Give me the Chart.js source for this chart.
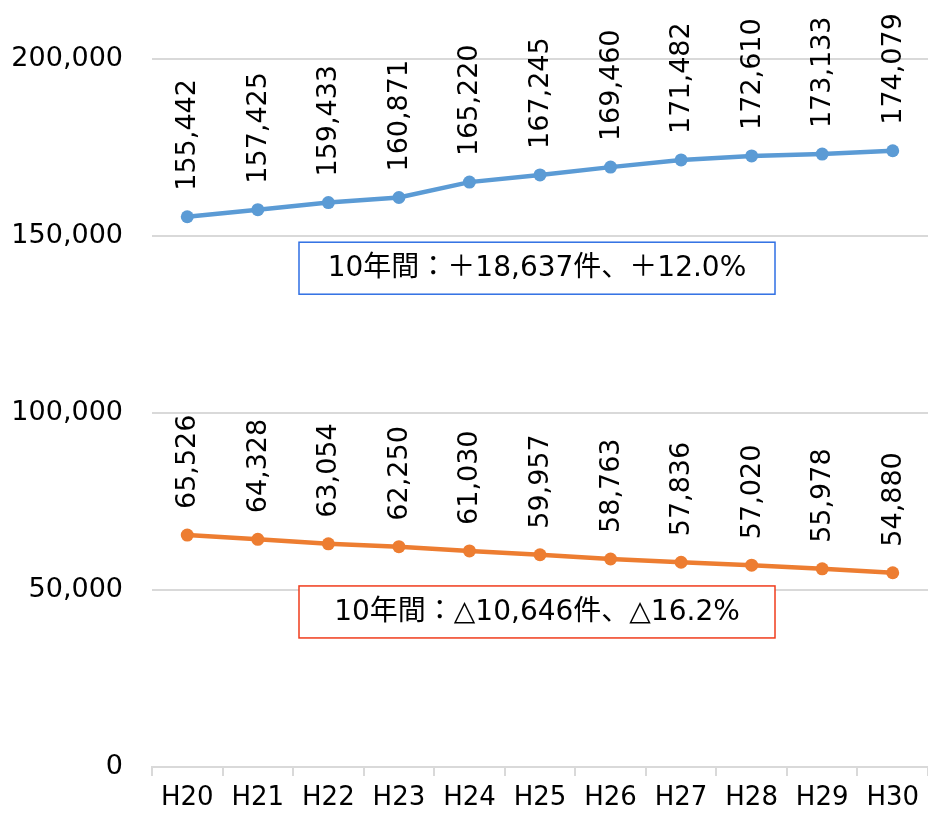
<!DOCTYPE html>
<html>
<head>
<meta charset="utf-8">
<script src="https://cdn.jsdelivr.net/npm/chart.js@4/dist/chart.umd.min.js"></script>
<style>
  html, body { margin: 0; padding: 0; background: #fff; overflow: hidden; }
  #wrap { width: 928px; height: 819px; }
  canvas { display: block; }
</style>
</head>
<body>
<div id="wrap"><canvas id="chart" width="928" height="819"></canvas></div>
<script>
const years = ["H20", "H21", "H22", "H23", "H24", "H25", "H26", "H27", "H28", "H29", "H30"];
const blueValues = [155442, 157425, 159433, 160871, 165220, 167245, 169460, 171482, 172610, 173133, 174079];
const orangeValues = [65526, 64328, 63054, 62250, 61030, 59957, 58763, 57836, 57020, 55978, 54880];
const yTicks = [0, 50000, 100000, 150000, 200000];
const blueNote = "10年間：＋18,637件、＋12.0%";
const orangeNote = "10年間：△10,646件、△16.2%";

const FONT = "'DejaVu Sans', 'Noto Sans CJK JP', sans-serif";
const fmt = v => v.toLocaleString("en-US");

// rotated value labels above each point
const pointLabels = {
    id: "pointLabels",
    afterDatasetsDraw(chart) {
        const ctx = chart.ctx;
        ctx.save();
        ctx.font = "27px " + FONT;
        ctx.fillStyle = "#000";
        ctx.textAlign = "left";
        ctx.textBaseline = "middle";
        chart.data.datasets.forEach((ds, i) => {
            chart.getDatasetMeta(i).data.forEach((pt, j) => {
                ctx.save();
                ctx.translate(pt.x, pt.y - 26);
                ctx.rotate(-Math.PI / 2);
                ctx.fillText(fmt(ds.data[j]), 0, 1);
                ctx.restore();
            });
        });
        ctx.restore();
    }
};

// boxed notes, placed through the scales
const notes = {
    id: "notes",
    afterDraw(chart) {
        const ctx = chart.ctx;
        const x = chart.scales.x, y = chart.scales.y;
        const items = [
            { text: blueNote, at: [5, 140900], color: "#2f6fe4" },
            { text: orangeNote, at: [5, 43800], color: "#f03c1c" }
        ];
        ctx.save();
        ctx.font = "28px " + FONT;
        ctx.textAlign = "center";
        ctx.textBaseline = "middle";
        items.forEach(n => {
            const cx = x.getPixelForValue(n.at[0]) - 3;
            const cy = y.getPixelForValue(n.at[1]);
            const w = 476, h = 52;
            ctx.fillStyle = "#fff";
            ctx.fillRect(cx - w / 2, cy - h / 2, w, h);
            ctx.strokeStyle = n.color;
            ctx.lineWidth = 1.5;
            ctx.strokeRect(cx - w / 2, cy - h / 2, w, h);
            ctx.fillStyle = "#000";
            ctx.fillText(n.text, cx, cy + 1);
        });
        ctx.restore();
    }
};

new Chart(document.getElementById("chart").getContext("2d"), {
    type: "line",
    data: {
        labels: years,
        datasets: [
            {
                data: blueValues,
                borderColor: "#5b9bd5",
                backgroundColor: "#5b9bd5",
                borderWidth: 4.5,
                pointRadius: 6.5,
                pointBorderWidth: 0,
                tension: 0
            },
            {
                data: orangeValues,
                borderColor: "#ed7d31",
                backgroundColor: "#ed7d31",
                borderWidth: 4.5,
                pointRadius: 6.5,
                pointBorderWidth: 0,
                tension: 0
            }
        ]
    },
    options: {
        responsive: false,
        animation: false,
        layout: { autoPadding: false, padding: { top: 59, right: 0, left: 0, bottom: 0 } },
        plugins: {
            legend: { display: false },
            tooltip: { enabled: false }
        },
        scales: {
            x: {
                offset: true,
                grid: {
                    offset: true,
                    drawOnChartArea: false,
                    drawTicks: true,
                    tickLength: 9,
                    color: "#d9d9d9",
                    lineWidth: 2
                },
                border: { color: "#d9d9d9", width: 2 },
                ticks: {
                    color: "#000",
                    font: { family: FONT, size: 26 },
                    padding: 7,
                    maxRotation: 0
                },
                afterFit(s) {
                    s.height = 52;
                    s.paddingLeft = 0;
                    s.paddingRight = 0;
                }
            },
            y: {
                min: 0,
                max: 200000,
                afterBuildTicks(s) { s.ticks = yTicks.map(v => ({ value: v })); },
                grid: { color: "#d9d9d9", lineWidth: 2, drawTicks: false },
                border: { display: false },
                ticks: {
                    color: "#000",
                    font: { family: FONT, size: 27 },
                    padding: 29,
                    callback: v => fmt(v)
                },
                afterFit(s) {
                    s.width = 152;
                    s.paddingTop = 0;
                    s.paddingBottom = 0;
                }
            }
        }
    },
    plugins: [pointLabels, notes]
});
</script>
</body>
</html>
